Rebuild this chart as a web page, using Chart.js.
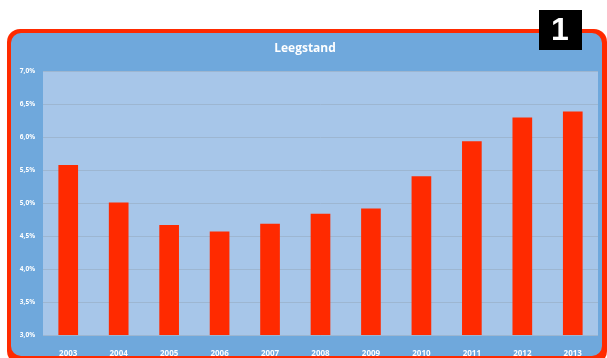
<!DOCTYPE html>
<html>
<head>
<meta charset="utf-8">
<script src="https://cdn.jsdelivr.net/npm/chart.js@4"></script>
<style>
  html, body { margin: 0; padding: 0; background: #ffffff; }
  #wrap { width: 607px; height: 358px; }
</style>
</head>
<body>
<div id="wrap"><canvas id="leegstandChart" width="607" height="358"></canvas></div>
<script>
const jaren = ['2003', '2004', '2005', '2006', '2007', '2008', '2009', '2010', '2011', '2012', '2013'];
const leegstand = [5.58, 5.01, 4.67, 4.57, 4.69, 4.84, 4.92, 5.41, 5.94, 6.30, 6.39]; // procent
const yMin = 3.0;
const yMax = 7.0;
const yStap = 0.5;
const badgeTekst = '1';

// rode kader met blauwe vulling, lichtblauw plotvlak en het zwarte nummerblokje
const kader = {
  id: 'kader',
  beforeDraw(chart) {
    const ctx = chart.ctx;
    const a = chart.chartArea;
    ctx.save();
    ctx.fillStyle = '#ff2a00';
    ctx.beginPath();
    ctx.roundRect(7, 29, 600, 335, 13);
    ctx.fill();
    ctx.fillStyle = '#6fa8dc';
    ctx.beginPath();
    ctx.roundRect(11, 33, 591, 323, 10);
    ctx.fill();
    ctx.fillStyle = '#a7c6e9';
    ctx.fillRect(a.left, a.top, a.right - a.left, a.bottom - a.top);
    ctx.restore();
  },
  afterDraw(chart) {
    const ctx = chart.ctx;
    ctx.save();
    ctx.fillStyle = '#000000';
    ctx.fillRect(539, 10, 43, 40);
    ctx.fillStyle = '#ffffff';
    ctx.font = 'bold 32px "Liberation Sans", Arial, sans-serif';
    ctx.textAlign = 'center';
    ctx.textBaseline = 'middle';
    ctx.fillText(badgeTekst, 560, 31);
    ctx.restore();
  }
};

new Chart(document.getElementById('leegstandChart'), {
  type: 'bar',
  data: {
    labels: jaren,
    datasets: [{
      label: 'Leegstand',
      data: leegstand,
      backgroundColor: '#ff2a00',
      categoryPercentage: 0.78,
      barPercentage: 0.5
    }]
  },
  options: {
    responsive: false,
    animation: false,
    layout: { padding: { left: 12, right: 9, top: 0, bottom: 0 } },
    plugins: {
      legend: { display: false },
      tooltip: { enabled: false },
      title: {
        display: true,
        text: 'Leegstand',
        color: '#ffffff',
        font: { family: '"Open Sans", sans-serif', size: 12, weight: 'bold' },
        padding: { top: 41, bottom: 16 }
      }
    },
    scales: {
      x: {
        grid: { display: false },
        border: { display: false },
        ticks: {
          color: '#ffffff',
          font: { family: '"Open Sans", sans-serif', size: 8, weight: 'bold' },
          padding: 6,
          maxRotation: 0
        },
        afterFit(s) { s.height = 23; }
      },
      y: {
        min: yMin,
        max: yMax,
        grid: { color: '#9db6d1', lineWidth: 1, drawTicks: false },
        border: { display: false },
        ticks: {
          stepSize: yStap,
          color: '#ffffff',
          padding: 8,
          font: { family: '"Open Sans", sans-serif', size: 6.5, weight: 'bold' },
          callback: v => v.toFixed(1).replace('.', ',') + '%'
        },
        afterFit(s) { s.width = 31; }
      }
    }
  },
  plugins: [kader]
});
</script>
</body>
</html>
